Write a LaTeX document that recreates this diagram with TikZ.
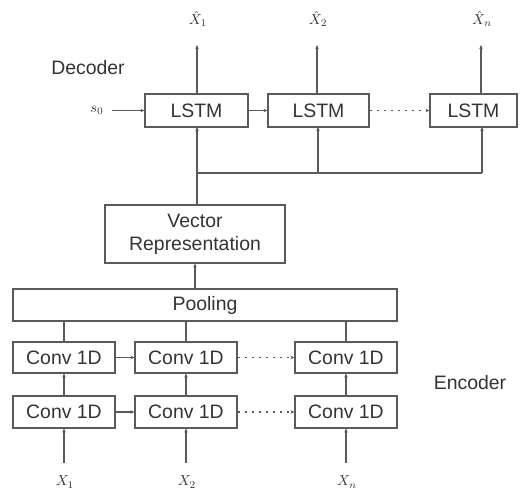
\documentclass[tikz,border=0pt]{standalone}
\usepackage{graphicx}
\usepackage{fontspec}
\setmainfont{Liberation Sans}
\usetikzlibrary{arrows.meta}
\definecolor{ln}{HTML}{5A5A5A}
\definecolor{tx}{HTML}{333333}
\newcommand{\mlab}[1]{\scalebox{1.45}{$#1$}}
\begin{document}
\begin{tikzpicture}[x=1bp,y=-1bp,
  box/.style={draw=ln,line width=1.1bp,text=tx,inner sep=0pt,font=\fontsize{19.5}{22}\selectfont,align=center},
  lbl/.style={text=tx,inner sep=0pt,font=\fontsize{19.5}{22}\selectfont},
  mlbl/.style={text=tx,inner sep=0pt},
  con/.style={draw=ln,line width=1.1bp},
  arr/.style={con,-{Stealth[length=4bp,width=3.5bp]}},
  dots/.style={arr,dash pattern=on 2bp off 5bp}]
\useasboundingbox (0,0) rectangle (529,499);
% decoder
\node[box,minimum width=103bp,minimum height=33bp] (l1) at (196.5,110.5) {LSTM};
\node[box,minimum width=101bp,minimum height=33bp] (l2) at (318.5,110.5) {LSTM};
\node[box,minimum width=87bp,minimum height=33bp] (l3) at (473.5,110.5) {LSTM};
\node[lbl] (dec) at (88,68) {Decoder};
\node[mlbl] (s0) at (97,110) {\mlab{s_0}};
\node[mlbl] (h1) at (198,19) {\mlab{\hat{X}_1}};
\node[mlbl] (h2) at (318,19) {\mlab{\hat{X}_2}};
\node[mlbl] (hn) at (482,19) {\mlab{\hat{X}_n}};
\coordinate (o1) at (197,45);
\coordinate (o2) at (317,45);
\coordinate (on) at (481,45);
\coordinate (t1) at (197,94);
\coordinate (t2) at (317,94);
\coordinate (t3) at (481,94);
\coordinate (b1) at (197,127);
\coordinate (b2) at (318,127);
\coordinate (b3) at (482,127);
\coordinate (j1) at (197,173);
\coordinate (j2) at (318,173);
\coordinate (j3) at (482,173);
\coordinate (si) at (112,110.5);
\draw[arr] (t1) -- (o1);
\draw[arr] (t2) -- (o2);
\draw[arr] (t3) -- (on);
\draw[arr] (si) -- (l1.west);
\draw[arr] (l1.east) -- (l2.west);
\draw[dots] (l2.east) -- (l3.west);
% vector representation
\node[box,minimum width=180bp,minimum height=58bp] (vr) at (195,234) {Vector\\[1pt]Representation};
\draw[con] (vr.north -| j1) -- (j1) -- (j3);
\draw[arr] (j1) -- (b1);
\draw[arr] (j2) -- (b2);
\draw[arr] (j3) -- (b3);
% pooling
\node[box,minimum width=384bp,minimum height=32bp] (pool) at (205,305) {Pooling};
\draw[arr] (pool.north -| vr.south) -- (vr.south);
% encoder
\node[box,minimum width=102bp,minimum height=31bp] (c11) at (64,357.5) {Conv 1D};
\node[box,minimum width=102bp,minimum height=31bp] (c12) at (186,357.5) {Conv 1D};
\node[box,minimum width=102bp,minimum height=31bp] (c13) at (346,357.5) {Conv 1D};
\node[box,minimum width=102bp,minimum height=32bp] (c21) at (64,412) {Conv 1D};
\node[box,minimum width=102bp,minimum height=32bp] (c22) at (186,412) {Conv 1D};
\node[box,minimum width=102bp,minimum height=32bp] (c23) at (346,412) {Conv 1D};
\node[lbl] (enc) at (470,383) {Encoder};
\draw[con] (c11.north) -- (c11.north |- pool.south);
\draw[con] (c12.north) -- (c12.north |- pool.south);
\draw[con] (c13.north) -- (c13.north |- pool.south);
\draw[arr] (c11.east) -- (c12.west);
\draw[dots] (c12.east) -- (c13.west);
\draw[arr] (c21.east) -- (c22.west);
\draw[dots] (c22.east) -- (c23.west);
\draw[arr] (c21.north) -- (c11.south);
\draw[arr] (c22.north) -- (c12.south);
\draw[arr] (c23.north) -- (c13.south);
\node[mlbl] (x1) at (65,482) {\mlab{X_1}};
\node[mlbl] (x2) at (187,482) {\mlab{X_2}};
\node[mlbl] (xn) at (347,482) {\mlab{X_n}};
\coordinate (i1) at (64,463);
\coordinate (i2) at (186,463);
\coordinate (i3) at (346,463);
\draw[arr] (i1) -- (c21.south);
\draw[arr] (i2) -- (c22.south);
\draw[arr] (i3) -- (c23.south);
\end{tikzpicture}
\end{document}
